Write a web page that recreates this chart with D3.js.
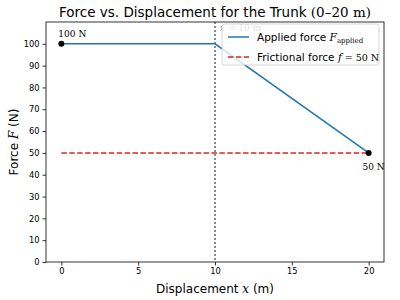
<!DOCTYPE html>
<html>
<head>
<meta charset="utf-8">
<script src="https://cdn.jsdelivr.net/npm/d3@7"></script>
<style>
  html, body { margin: 0; padding: 0; background: #fff; }
  text { font-family: "DejaVu Sans", sans-serif; }
  .math { font-family: "DejaVu Serif", "Liberation Serif", serif; font-style: italic; }
  .rm { font-family: "DejaVu Serif", "Liberation Serif", serif; }
</style>
</head>
<body>
<div id="container"></div>
<script>
const appliedX = [0, 10, 20];
const appliedF = [100, 100, 50];
const frictionX = [0, 20];
const frictionF = [50, 50];
const xTicks = [0, 5, 10, 15, 20];
const yTicks = [0, 10, 20, 30, 40, 50, 60, 70, 80, 90, 100];
const markX = 10;
const endPoints = [{x: 0, f: 100, label: "100 N"}, {x: 20, f: 50, label: "50 N"}];

const chart = () => {
  const width = 400, height = 300;
  const margin = {top: 22, right: 16, bottom: 38, left: 46};

  const x = d3.scaleLinear().domain([-1, 21]).range([margin.left, width - margin.right]);
  const y = d3.scaleLinear().domain([0, 110]).range([height - margin.bottom, margin.top]);

  const svg = d3.create("svg")
    .attr("width", width)
    .attr("height", height);

  // vertical marker at x = 10
  svg.append("line")
    .attr("x1", x(markX)).attr("x2", x(markX))
    .attr("y1", y(110)).attr("y2", y(0))
    .attr("stroke", "#000")
    .attr("stroke-width", 0.9)
    .attr("stroke-dasharray", "2,2");

  svg.append("text")
    .attr("x", x(markX) + 5).attr("y", 31)
    .attr("font-size", 9).attr("fill", "#555")
    .call(t => t.append("tspan").attr("class", "math").text("x"))
    .call(t => t.append("tspan").attr("class", "rm").text(" = 10 m"));

  const line = d3.line().x(d => x(d[0])).y(d => y(d[1]));

  svg.append("path")
    .datum(frictionX.map((v, i) => [v, frictionF[i]]))
    .attr("d", line)
    .attr("fill", "none")
    .attr("stroke", "#d62728")
    .attr("stroke-width", 1.5)
    .attr("stroke-dasharray", "5.5,2.4");

  svg.append("path")
    .datum(appliedX.map((v, i) => [v, appliedF[i]]))
    .attr("d", line)
    .attr("fill", "none")
    .attr("stroke", "#1f77b4")
    .attr("stroke-width", 1.5);

  svg.append("g")
    .selectAll("circle")
    .data(endPoints)
    .join("circle")
    .attr("cx", d => x(d.x))
    .attr("cy", d => y(d.f))
    .attr("r", 3)
    .attr("fill", "#000");

  svg.append("text")
    .attr("class", "rm")
    .attr("x", x(0) - 3).attr("y", y(100) - 7)
    .attr("font-size", 9)
    .text(endPoints[0].label);
  svg.append("text")
    .attr("class", "rm")
    .attr("x", x(20) + 5).attr("y", y(50) + 17)
    .attr("text-anchor", "middle")
    .attr("font-size", 9)
    .text(endPoints[1].label);

  // axes
  const xAxis = svg.append("g")
    .attr("transform", `translate(0,${height - margin.bottom})`)
    .call(d3.axisBottom(x).tickValues(xTicks).tickSize(3.5).tickPadding(3));
  const yAxis = svg.append("g")
    .attr("transform", `translate(${margin.left},0)`)
    .call(d3.axisLeft(y).tickValues(yTicks).tickSize(3.5).tickPadding(3));
  [xAxis, yAxis].forEach(a => {
    a.select(".domain").remove();
    a.selectAll("text").attr("font-size", 8.3).attr("font-family", "DejaVu Sans").attr("fill", "#000");
    a.selectAll("line").attr("stroke", "#000").attr("stroke-width", 0.8);
  });

  svg.append("rect")
    .attr("x", margin.left).attr("y", margin.top)
    .attr("width", width - margin.left - margin.right)
    .attr("height", height - margin.top - margin.bottom)
    .attr("fill", "none").attr("stroke", "#000").attr("stroke-width", 0.8);

  // legend
  const lg = svg.append("g").attr("transform", "translate(222,24)");
  lg.append("rect")
    .attr("width", 157).attr("height", 41).attr("rx", 2.5)
    .attr("fill", "#fff").attr("fill-opacity", 0.8)
    .attr("stroke", "#ccc").attr("stroke-width", 0.8);
  const items = [
    {color: "#1f77b4", dash: null, label: "Applied force ", sym: "F", sub: "applied", y: 13},
    {color: "#d62728", dash: "5.5,2.4", label: "Frictional force ", sym: "f", tail: " = 50 N", y: 33}
  ];
  items.forEach(it => {
    lg.append("line")
      .attr("x1", 6).attr("x2", 27).attr("y1", it.y).attr("y2", it.y)
      .attr("stroke", it.color).attr("stroke-width", 1.5)
      .attr("stroke-dasharray", it.dash);
    const t = lg.append("text").attr("x", 35).attr("y", it.y + 4).attr("font-size", 10.5);
    t.append("tspan").text(it.label);
    t.append("tspan").attr("class", "math").text(it.sym);
    if (it.sub) t.append("tspan").attr("class", "rm").attr("font-size", 7).attr("dy", 2).text(it.sub);
    if (it.tail) t.append("tspan").attr("class", "rm").attr("font-size", 9.5).text(it.tail);
  });

  // titles
  const title = svg.append("text")
    .attr("x", (margin.left + width - margin.right) / 2).attr("y", 17)
    .attr("text-anchor", "middle").attr("font-size", 13.5);
  title.append("tspan").text("Force vs. Displacement for the Trunk ");
  title.append("tspan").attr("class", "rm").text("(0–20 m)");

  const xl = svg.append("text")
    .attr("x", (margin.left + width - margin.right) / 2).attr("y", height - 7)
    .attr("text-anchor", "middle").attr("font-size", 12);
  xl.append("tspan").text("Displacement ");
  xl.append("tspan").attr("class", "math").text("x");
  xl.append("tspan").text(" (m)");

  const yl = svg.append("text")
    .attr("transform", `translate(18,${(margin.top + height - margin.bottom) / 2}) rotate(-90)`)
    .attr("text-anchor", "middle").attr("font-size", 12);
  yl.append("tspan").text("Force ");
  yl.append("tspan").attr("class", "math").text("F");
  yl.append("tspan").text(" (N)");

  return svg.node();
};

const container = document.getElementById("container");
container.appendChild(chart());
</script>
</body>
</html>
